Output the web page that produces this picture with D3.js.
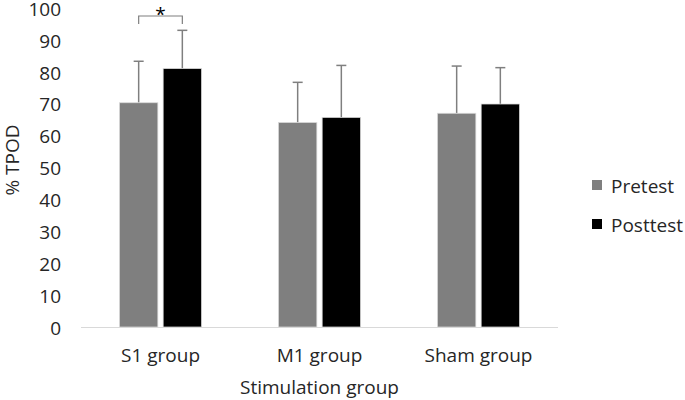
<!DOCTYPE html>
<html><head><meta charset="utf-8">
<script src="https://cdn.jsdelivr.net/npm/d3@7"></script>
<style>body{margin:0;background:#fff}svg{display:block}text{font-family:"Open Sans",sans-serif;fill:#262626}</style>
</head><body>
<svg id="c" width="685" height="400"></svg>
<script>
const categories = ["S1 group", "M1 group", "Sham group"];
const series = ["Pretest", "Posttest"];
const pretest = [70.3, 64.1, 67.0];
const posttest = [81.0, 65.7, 69.9];
const pretestErr = [13.0, 12.6, 14.8];
const posttestErr = [12.0, 16.3, 11.4];
const yTicks = [0,10,20,30,40,50,60,70,80,90,100];
const colors = ["#7f7f7f", "#000000"];

(function(){
const FS = "19px";
const svg = d3.select("#c");
const pL = 81, pR = 558, pT = 8, pB = 327;
const x = d3.scaleBand().domain(categories).range([pL, pR]);
const xs = d3.scaleBand().domain(series).range([0, 82]).paddingInner(0.122);
const y = d3.scaleLinear().domain([0, 100]).range([pB, pT]);

// y tick labels
const yAxis = d3.axisLeft(y).tickValues(yTicks).tickSize(0).tickPadding(0);
const ga = svg.append("g").attr("transform", `translate(61,0)`).call(yAxis);
ga.select(".domain").remove();
ga.selectAll("text").style("font-size",FS).attr("font-family", null).attr("fill","#262626").attr("dy","0.38em");

const data = categories.map((c,i)=>({c, vals:[
  {s:"Pretest", v:pretest[i], e:pretestErr[i]},
  {s:"Posttest", v:posttest[i], e:posttestErr[i]}]}));

const groups = svg.selectAll("g.grp").data(data).join("g").attr("class","grp")
  .attr("transform", d=>`translate(${x(d.c)+x.bandwidth()/2-41},0)`);

groups.selectAll("line.err").data(d=>d.vals).join("line").attr("class","err")
  .attr("x1", d=>xs(d.s)+xs.bandwidth()/2).attr("x2", d=>xs(d.s)+xs.bandwidth()/2)
  .attr("y1", d=>y(d.v)).attr("y2", d=>y(d.v+d.e))
  .attr("stroke","#7f7f7f").attr("stroke-width",1.5);
groups.selectAll("line.cap").data(d=>d.vals).join("line").attr("class","cap")
  .attr("x1", d=>xs(d.s)+xs.bandwidth()/2-5).attr("x2", d=>xs(d.s)+xs.bandwidth()/2+5)
  .attr("y1", d=>y(d.v+d.e)).attr("y2", d=>y(d.v+d.e))
  .attr("stroke","#7f7f7f").attr("stroke-width",1.5);
groups.selectAll("rect").data(d=>d.vals).join("rect")
  .attr("x", d=>xs(d.s)).attr("width", xs.bandwidth())
  .attr("y", d=>y(d.v)).attr("height", d=>y(0)-y(d.v))
  .attr("fill", (d,i)=>colors[i]).attr("stroke","#d9d9d9").attr("stroke-width",0.75);

// x axis line
svg.append("line").attr("x1",pL).attr("x2",pR).attr("y1",pB+0.5).attr("y2",pB+0.5)
  .attr("stroke","#d9d9d9").attr("stroke-width",1);

// x labels
const xAxis = d3.axisBottom(x).tickSize(0).tickPadding(0);
const gx = svg.append("g").attr("transform", `translate(0,${pB+35})`).call(xAxis);
gx.select(".domain").remove();
gx.selectAll("text").style("font-size",FS).attr("font-family", null).attr("fill","#262626").attr("dy",0);

// axis titles
svg.append("text").attr("x", (pL+pR)/2).attr("y", 394).attr("text-anchor","middle")
  .style("font-size",FS).text("Stimulation group");
svg.append("text").attr("transform","translate(19,160) rotate(-90)").attr("text-anchor","middle")
  .style("font-size",FS).text("% TPOD");

// significance bracket
const b0 = x("S1 group")+x.bandwidth()/2-41;
const bx1 = b0 + xs("Pretest")+xs.bandwidth()/2, bx2 = b0 + xs("Posttest")+xs.bandwidth()/2;
svg.append("path").attr("d", `M${bx1},24 V16 H${bx2} V24`).attr("fill","none")
  .attr("stroke","#7f7f7f").attr("stroke-width",1.2);
svg.append("text").attr("x",(bx1+bx2)/2).attr("y",21).attr("text-anchor","middle")
  .style("font-size","19px").style("fill","#000").text("*");

// legend
const lg = svg.selectAll("g.lg").data(series).join("g").attr("class","lg")
  .attr("transform",(d,i)=>`translate(592,${180+i*39})`);
lg.append("rect").attr("width",10).attr("height",10).attr("fill",(d,i)=>colors[i]);
lg.append("text").attr("x",19).attr("y",12.5).style("font-size",FS).text(d=>d);
})();
</script>
</body></html>
